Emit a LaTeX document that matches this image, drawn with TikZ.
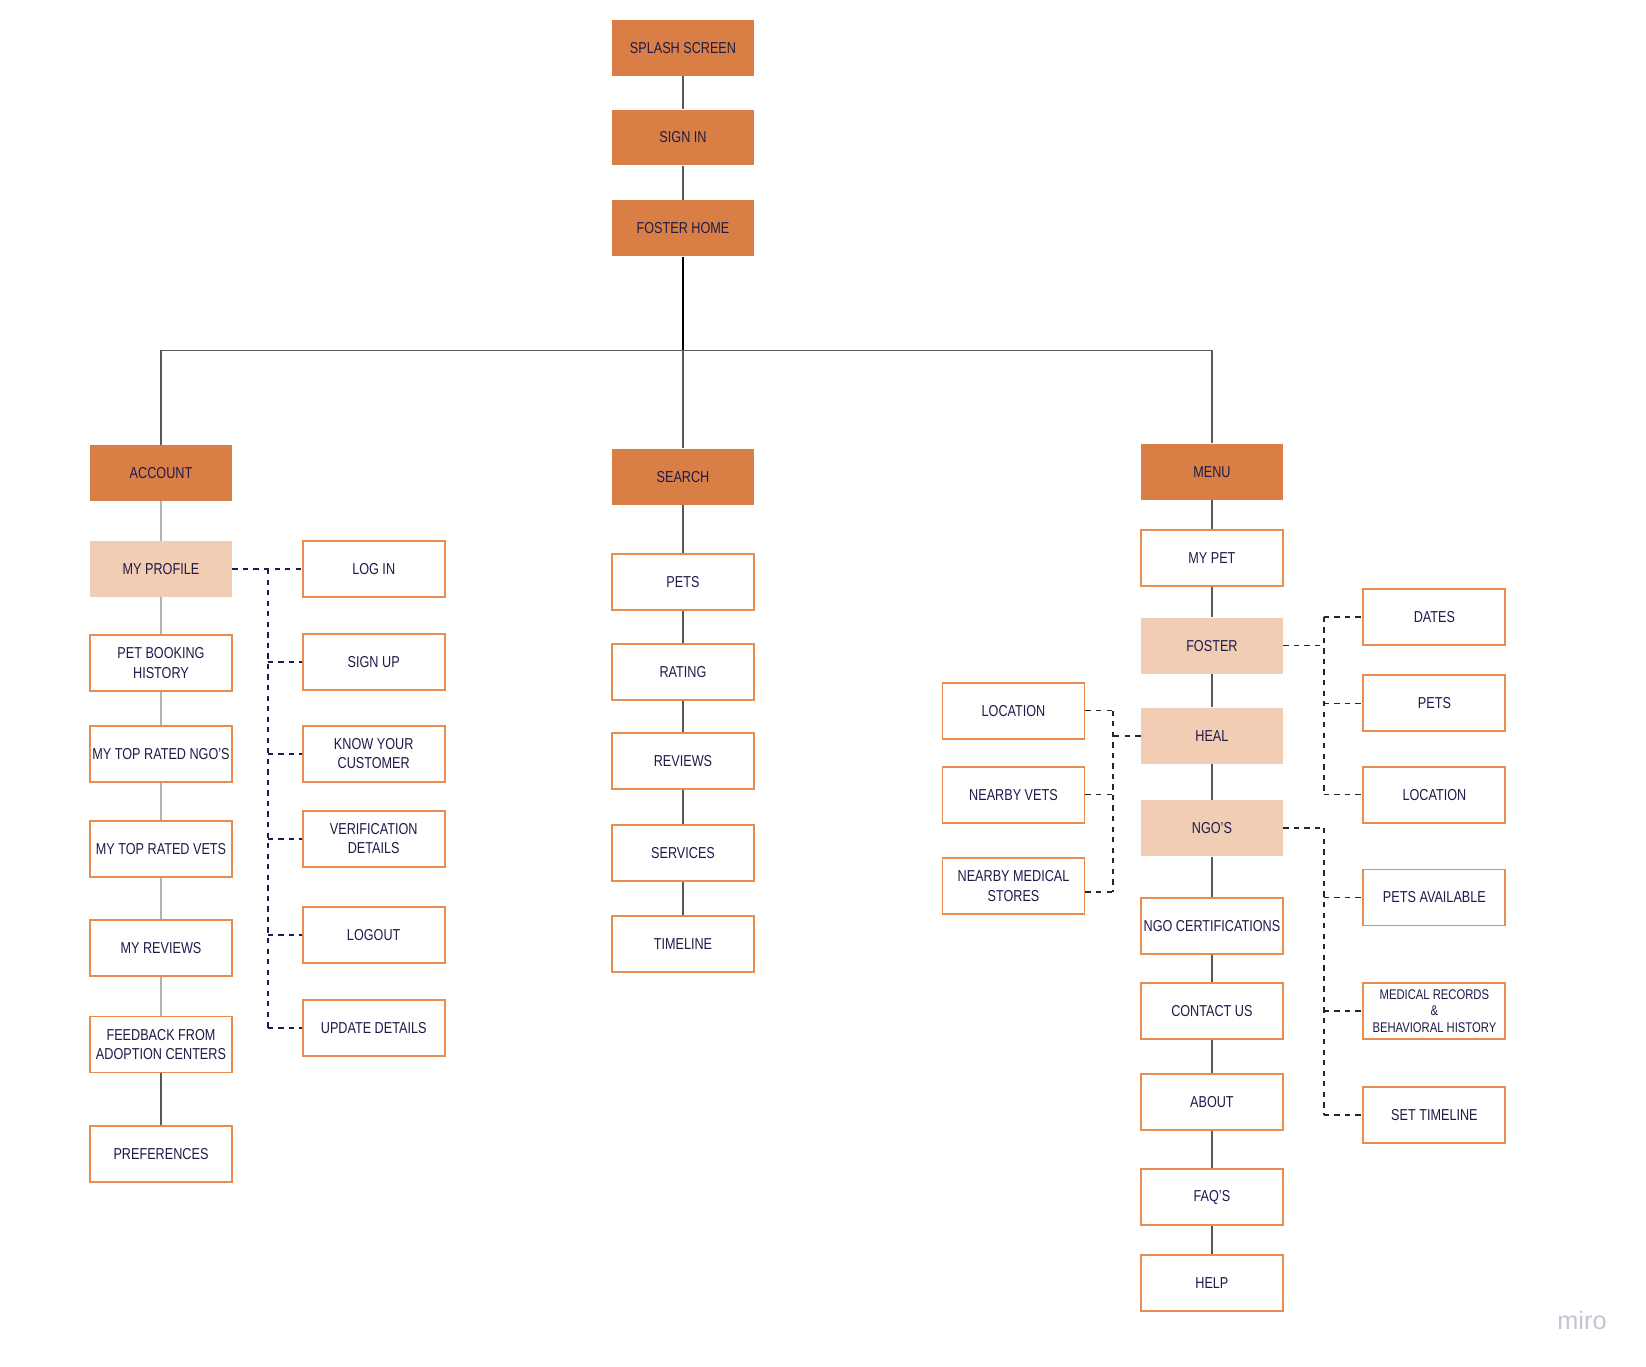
\documentclass[tikz,border=0pt]{standalone}
\usepackage{fontspec}
\setmainfont[FakeStretch=0.8]{Liberation Sans}
\newfontfamily\markfont{Liberation Sans}
\usepackage{tikz}
\usetikzlibrary{positioning}
\definecolor{mainfill}{HTML}{D97F45}
\definecolor{softfill}{HTML}{F1CDB3}
\definecolor{edgeor}{HTML}{E98C4F}
\definecolor{ink}{HTML}{1E1B4B}
\definecolor{navy}{HTML}{1C1C50}
\definecolor{watermark}{HTML}{C4C4D6}

\begin{document}
\begin{tikzpicture}[
  x=0.02cm, y=-0.02cm,
  box/.style={
    minimum width=2.84cm,
    minimum height=1.12cm,
    inner xsep=0pt,
    inner ysep=1pt,
    align=center,
    text=ink,
    font=\small
  },
  mainbox/.style={box, fill=mainfill},
  softbox/.style={box, fill=softfill},
  pagebox/.style={box, fill=white, draw=edgeor, line width=1.1pt},
  conn/.style={draw=black!65, line width=0.8pt},
  connlight/.style={draw=black!30, line width=0.8pt},
  ldash/.style={draw=navy, dashed, line width=1.1pt},
  mdash/.style={draw=black!85, dashed, line width=0.9pt}
]
  \useasboundingbox (0,0) rectangle (1646,1366);

  % top flow
  \node[mainbox] (splash) at (683,47.8)  {SPLASH SCREEN};
  \node[mainbox] (signin) at (683,137.5) {SIGN IN};
  \node[mainbox] (home)   at (683,228.3) {FOSTER HOME};
  \coordinate (hub) at (683,350.6);

  \node[mainbox] (account) at (161,472.9)   {ACCOUNT};
  \node[mainbox] (search)  at (683,476.6)   {SEARCH};
  \node[mainbox] (menu)    at (1211.9,471.8) {MENU};

  % account column
  \node[softbox] (profile)  at (161,569)    {MY PROFILE};
  \node[pagebox] (booking)  at (161,662.9)  {PET BOOKING\\HISTORY};
  \node[pagebox] (topngo)   at (161,753.7)  {MY TOP RATED NGO'S};
  \node[pagebox] (topvets)  at (161,849.2)  {MY TOP RATED VETS};
  \node[pagebox] (myrev)    at (161,947.9)  {MY REVIEWS};
  \node[pagebox] (feedback) at (161,1044.5) {FEEDBACK FROM\\ADOPTION CENTERS};
  \node[pagebox] (prefs)    at (161,1153.6) {PREFERENCES};

  \node[pagebox] (login)  at (373.7,569)    {LOG IN};
  \node[pagebox] (signup) at (373.7,662.4)  {SIGN UP};
  \node[pagebox] (kyc)    at (373.7,753.7)  {KNOW YOUR\\CUSTOMER};
  \node[pagebox] (verify) at (373.7,838.7)  {VERIFICATION\\DETAILS};
  \node[pagebox] (logout) at (373.7,935.3)  {LOGOUT};
  \node[pagebox] (update) at (373.7,1027.7) {UPDATE DETAILS};
  \coordinate (ltop) at (267.7,569);
  \coordinate (lbot) at (267.7,1027.7);

  % search column
  \node[pagebox] (spets)    at (683,582)    {PETS};
  \node[pagebox] (rating)   at (683,671.8)  {RATING};
  \node[pagebox] (reviews)  at (683,761)    {REVIEWS};
  \node[pagebox] (services) at (683,853.4)  {SERVICES};
  \node[pagebox] (timeline) at (683,943.7)  {TIMELINE};

  % menu column
  \node[pagebox] (mypet)   at (1211.9,558.4)  {MY PET};
  \node[softbox] (foster)  at (1211.9,645.6)  {FOSTER};
  \node[softbox] (heal)    at (1211.9,735.8)  {HEAL};
  \node[softbox] (ngos)    at (1211.9,828.2)  {NGO'S};
  \node[pagebox] (ngocert) at (1211.9,925.8)  {NGO CERTIFICATIONS};
  \node[pagebox] (contact) at (1211.9,1010.9) {CONTACT US};
  \node[pagebox] (about)   at (1211.9,1102.2) {ABOUT};
  \node[pagebox] (faqs)    at (1211.9,1197.2) {FAQ'S};
  \node[pagebox] (help)    at (1211.9,1282.7) {HELP};

  \node[pagebox] (hloc)   at (1013.5,710.6) {LOCATION};
  \node[pagebox] (hvets)  at (1013.5,794.6) {NEARBY VETS};
  \node[pagebox] (hstore) at (1013.5,886)   {NEARBY MEDICAL\\STORES};
  \coordinate (htop) at (1112.7,710.6);
  \coordinate (hbot) at (1112.7,892);

  \node[pagebox] (dates)  at (1434.4,616.7) {DATES};
  \node[pagebox] (fpets)  at (1434.4,703.3) {PETS};
  \node[pagebox] (floc)   at (1434.4,794.6) {LOCATION};
  \node[pagebox] (avail)  at (1434.4,897.5) {PETS AVAILABLE};
  \node[pagebox,font=\footnotesize] (records) at (1434.4,1010.9)
    {MEDICAL RECORDS\\\&\\BEHAVIORAL HISTORY};
  \node[pagebox] (settime) at (1434.4,1114.8) {SET TIMELINE};
  \coordinate (ftop) at (1323.7,616.7);
  \coordinate (fbot) at (1323.7,794.6);
  \coordinate (ntop) at (1323.7,828.2);
  \coordinate (nbot) at (1323.7,1114.8);

  \node[text=watermark, font=\markfont\Large] (miro) at (1582,1320.5) {miro};

  % solid links
  \draw[conn] (splash) -- (signin);
  \draw[conn] (signin) -- (home);
  \draw[draw=black, line width=0.8pt] (home) -- (hub);
  \draw[conn] (hub) -- (search);
  \draw[conn] (account) |- (hub) -| (menu);

  \foreach \a/\b in {account/profile,profile/booking,booking/topngo,
                     topngo/topvets,topvets/myrev,myrev/feedback}
    \draw[connlight] (\a) -- (\b);
  \draw[conn] (feedback) -- (prefs);

  \foreach \a/\b in {search/spets,spets/rating,rating/reviews,
                     reviews/services,services/timeline}
    \draw[conn] (\a) -- (\b);

  \foreach \a/\b in {menu/mypet,mypet/foster,foster/heal,heal/ngos,
                     ngos/ngocert,ngocert/contact,contact/about,about/faqs,faqs/help}
    \draw[conn] (\a) -- (\b);

  % dashed links
  \draw[ldash] (profile.east) -- (login.west);
  \draw[ldash] (ltop) -- (lbot);
  \foreach \n in {signup,kyc,verify,logout,update}
    \draw[ldash] (\n.west -| ltop) -- (\n.west);

  \draw[mdash] (heal.west) -- (heal.west -| htop);
  \draw[mdash] (htop) -- (hbot);
  \foreach \n in {hloc,hvets}
    \draw[mdash] (\n.east) -- (\n.east -| htop);
  \draw[mdash] (hstore.east |- hbot) -- (hbot);

  \draw[mdash] (foster.east) -- (foster.east -| ftop);
  \draw[mdash] (ftop) -- (fbot);
  \foreach \n in {dates,fpets,floc}
    \draw[mdash] (\n.west -| ftop) -- (\n.west);

  \draw[mdash] (ngos.east) -- (ntop);
  \draw[mdash] (ntop) -- (nbot);
  \foreach \n in {avail,records,settime}
    \draw[mdash] (\n.west -| ntop) -- (\n.west);

\end{tikzpicture}
\end{document}
